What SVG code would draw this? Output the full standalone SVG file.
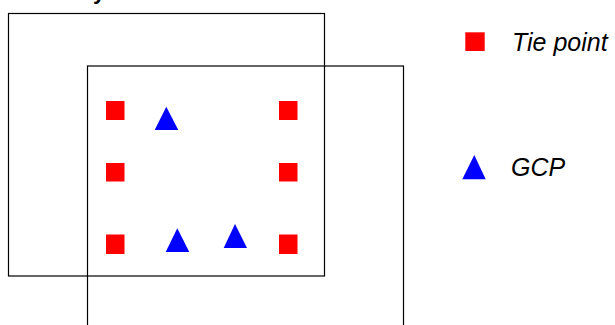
<svg xmlns="http://www.w3.org/2000/svg" width="615" height="325" viewBox="0 0 615 325">
<style>
.frame{fill:none;stroke:#000;stroke-width:1.2}
.tie{fill:#ff0000}
.gcp{fill:#0000ff}
.lbl{font-family:"Liberation Sans",Arial,sans-serif;font-style:italic;font-size:25px;fill:#000}
</style>
<rect width="615" height="325" fill="#fff"/>
<text x="93" y="-1.5" font-family="'Liberation Sans',Arial,sans-serif" font-weight="bold" font-size="22">y</text>
<g id="image1"><rect class="frame" x="8.5" y="13.5" width="316" height="262.5"/></g>
<g id="image2"><rect class="frame" x="87.5" y="66" width="316" height="270"/></g>
<g id="tiepoints">
<rect class="tie" x="106" y="101" width="18.5" height="19"/>
<rect class="tie" x="106" y="163" width="18.5" height="18.5"/>
<rect class="tie" x="106" y="234.5" width="18.5" height="19.5"/>
<rect class="tie" x="279" y="101" width="18.5" height="19"/>
<rect class="tie" x="279" y="163" width="18.5" height="18.5"/>
<rect class="tie" x="279" y="234.5" width="18.5" height="19.5"/>
</g>
<g id="gcps">
<polygon class="gcp" points="166.3,106.7 178.3,130 154.7,130"/>
<polygon class="gcp" points="177.3,228.3 189.3,252 165.7,252"/>
<polygon class="gcp" points="235,224 247,248 223.7,248"/>
</g>
<g id="legend-tie">
<rect class="tie" x="465.3" y="32.3" width="19.4" height="18.7"/>
<text class="lbl" x="512" y="51">Tie point</text>
</g>
<g id="legend-gcp">
<polygon class="gcp" points="474.3,155 485.7,179.3 462.3,179.3"/>
<text class="lbl" x="511" y="176">GCP</text>
</g>
<g id="connectors"/>
</svg>
